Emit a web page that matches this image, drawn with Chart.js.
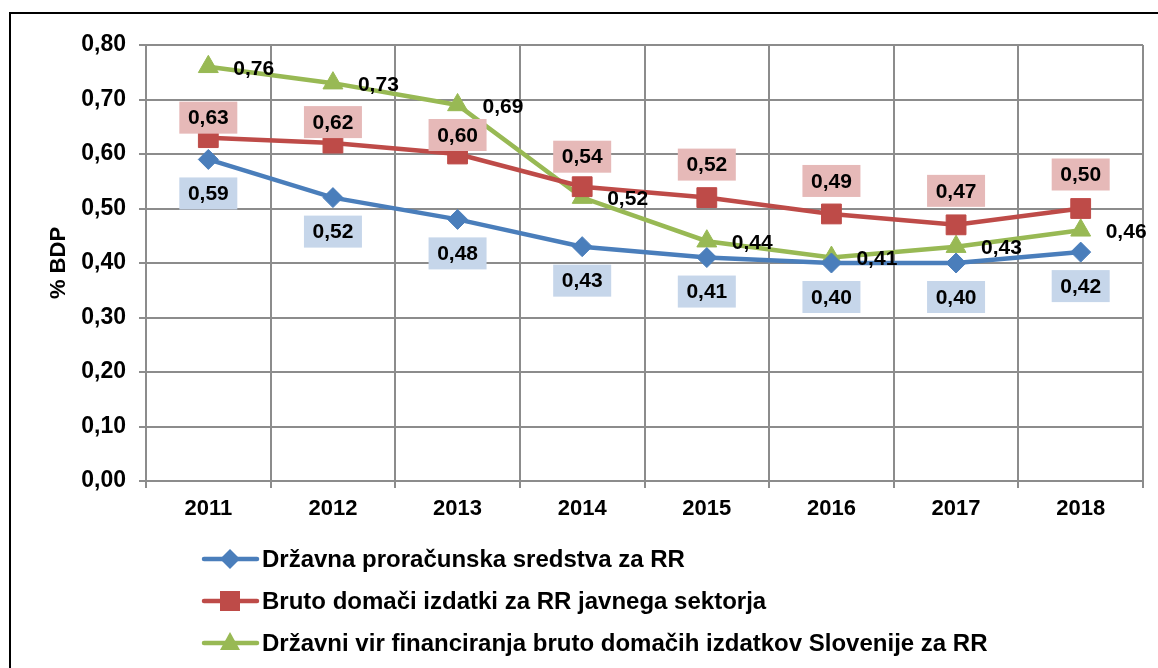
<!DOCTYPE html>
<html>
<head>
<meta charset="utf-8">
<script src="https://cdn.jsdelivr.net/npm/chart.js@4/dist/chart.umd.min.js"></script>
<style>
  body { margin: 0; background: #fff; }
  #wrap { width: 1158px; height: 668px; }
</style>
</head>
<body>
<div id="wrap"><canvas id="lineChart" width="1158" height="668"></canvas></div>
<script>
// podatki (% BDP)
const years = ['2011', '2012', '2013', '2014', '2015', '2016', '2017', '2018'];
const proracun = [0.59, 0.52, 0.48, 0.43, 0.41, 0.40, 0.40, 0.42];
const javniSektor = [0.63, 0.62, 0.60, 0.54, 0.52, 0.49, 0.47, 0.50];
const drzavniVir = [0.76, 0.73, 0.69, 0.52, 0.44, 0.41, 0.43, 0.46];
const seriesNames = [
    'Državna proračunska sredstva za RR',
    'Bruto domači izdatki za RR javnega sektorja',
    'Državni vir financiranja bruto domačih izdatkov Slovenije za RR',
];

const BLUE = '#4a7ebb';
const RED = '#be4b48';
const GREEN = '#98b954';
const GRID = '#8c8c8c';
const FONT = '"Liberation Sans", Arial, sans-serif';

Chart.defaults.font.family = FONT;
Chart.defaults.color = '#000';

const fmt = (v) => v.toFixed(2).replace('.', ',');

function marker(c, style, x, y, color) {
    c.fillStyle = color;
    c.beginPath();
    if (style === 'rectRot') {
        c.moveTo(x, y - 10); c.lineTo(x + 10, y); c.lineTo(x, y + 10); c.lineTo(x - 10, y);
    } else if (style === 'rect') {
        c.rect(x - 10, y - 10, 20, 20);
    } else {
        c.moveTo(x, y - 11); c.lineTo(x + 10, y + 7); c.lineTo(x - 10, y + 7);
    }
    c.closePath();
    c.fill();
}

// okvir, oznake vrednosti in legenda
const extras = {
    id: 'extras',
    beforeDraw(chart) {
        const c = chart.ctx;
        c.save();
        c.strokeStyle = '#000';
        c.lineWidth = 2;
        c.beginPath();
        c.moveTo(1160, 13);
        c.lineTo(10, 13);
        c.lineTo(10, 670);
        c.stroke();
        c.restore();
    },
    afterDatasetsDraw(chart) {
        const c = chart.ctx;
        c.save();
        c.font = 'bold 21px ' + FONT;
        c.textBaseline = 'middle';
        const redOffsets = [-20, -21, -19, -30, -33, -33, -34, -34];

        chart.data.datasets.forEach((ds, i) => {
            const meta = chart.getDatasetMeta(i);
            meta.data.forEach((pt, j) => {
                const txt = fmt(ds.data[j]);
                if (i === 2) {
                    c.textAlign = 'left';
                    c.fillStyle = '#000';
                    c.fillText(txt, pt.x + 25, pt.y + 2);
                    return;
                }
                const cy = i === 0 ? pt.y + 34 : pt.y + redOffsets[j];
                c.fillStyle = i === 0 ? '#c6d6ea' : '#e6b9b8';
                c.fillRect(pt.x - 29, cy - 16, 58, 32);
                c.textAlign = 'center';
                c.fillStyle = '#000';
                c.fillText(txt, pt.x, cy + 1);
            });
        });
        c.restore();
    },
    afterDraw(chart) {
        const c = chart.ctx;
        c.save();
        const rows = [559, 601, 643];
        const styles = ['rectRot', 'rect', 'triangle'];
        c.font = 'bold 24px ' + FONT;
        c.textBaseline = 'middle';
        c.textAlign = 'left';
        chart.data.datasets.forEach((ds, i) => {
            const y = rows[i];
            c.strokeStyle = ds.borderColor;
            c.lineWidth = 4.5;
            c.lineCap = 'round';
            c.beginPath();
            c.moveTo(204, y);
            c.lineTo(257, y);
            c.stroke();
            marker(c, styles[i], 230, y, ds.borderColor);
            c.fillStyle = '#000';
            c.fillText(ds.label, 262, y + 1);
        });
        c.restore();
    },
};

const ctx = document.getElementById('lineChart').getContext('2d');
const lineChart = new Chart(ctx, {
    type: 'line',
    data: {
        labels: years,
        datasets: [{
            label: seriesNames[0],
            data: proracun,
            borderColor: BLUE,
            backgroundColor: BLUE,
            pointStyle: 'rectRot',
            pointRadius: 10,
        }, {
            label: seriesNames[1],
            data: javniSektor,
            borderColor: RED,
            backgroundColor: RED,
            pointStyle: 'rect',
            pointRadius: 14,
        }, {
            label: seriesNames[2],
            data: drzavniVir,
            borderColor: GREEN,
            backgroundColor: GREEN,
            pointStyle: 'triangle',
            pointRadius: 11.5,
        }],
    },
    options: {
        responsive: false,
        animation: false,
        elements: {
            line: { borderWidth: 4.5, tension: 0 },
            point: { borderWidth: 1, hoverRadius: 10 },
        },
        layout: { padding: { left: 0, top: 45, right: 15, bottom: 137 } },
        plugins: {
            legend: { display: false },
            tooltip: { enabled: false },
        },
        scales: {
            x: {
                offset: true,
                grid: { offset: true, color: GRID, lineWidth: 2, tickLength: 7 },
                border: { color: GRID, width: 2 },
                ticks: { font: { size: 22, weight: 'bold' }, padding: 8, color: '#000' },
                afterFit: (s) => { s.height = 50; },
            },
            y: {
                min: 0,
                max: 0.8,
                grid: { color: GRID, lineWidth: 2, tickLength: 7 },
                border: { color: GRID, width: 2 },
                ticks: {
                    stepSize: 0.1,
                    font: { size: 23, weight: 'bold' },
                    padding: 13,
                    color: '#000',
                    callback: (v) => fmt(v),
                },
                title: {
                    display: true,
                    text: '% BDP',
                    font: { size: 22, weight: 'bold' },
                    color: '#000',
                    padding: { top: 46, bottom: 0 },
                },
                afterFit: (s) => { s.width = 146; },
            },
        },
    },
    plugins: [extras],
});
</script>
</body>
</html>
